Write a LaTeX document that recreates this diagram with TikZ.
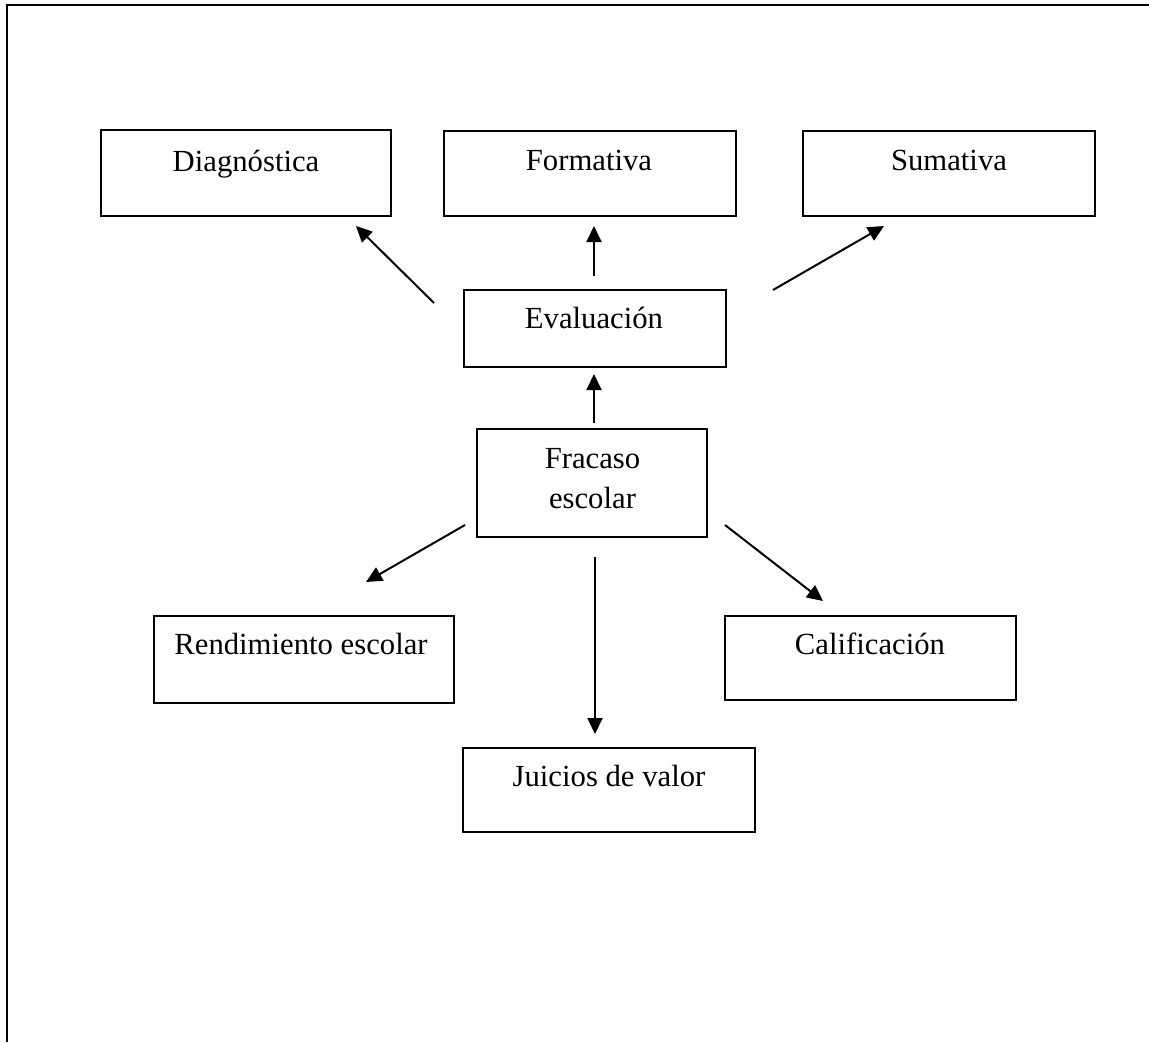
\documentclass[tikz,border=0pt]{standalone}
\usepackage{fontspec}
\setmainfont{Liberation Serif}
\usetikzlibrary{arrows.meta}
\begin{document}
\begin{tikzpicture}[x=1pt,y=-1pt,
  box/.style={draw=black, line width=2pt, rectangle, inner sep=0pt},
  lbl/.style={anchor=base, inner sep=0pt, font=\fontsize{30.7}{36}\selectfont},
  conn/.style={line width=2pt, -{Triangle[length=16pt,width=15pt]}}]
\useasboundingbox (0,0) rectangle (1149,1042);
\draw[line width=2.2pt] (7,1042) -- (7,5) -- (1149,5);
% boxes
\node[box, minimum width=290pt, minimum height=86pt] (diag) at (246,173) {};
\node[box, minimum width=292pt, minimum height=85pt] (form) at (590,173.5) {};
\node[box, minimum width=292pt, minimum height=85pt] (suma) at (949,173.5) {};
\node[box, minimum width=262pt, minimum height=77pt] (eval) at (595,328.5) {};
\node[box, minimum width=230pt, minimum height=108pt] (frac) at (592,483) {};
\node[box, minimum width=300pt, minimum height=87pt] (rend) at (304,659.5) {};
\node[box, minimum width=291pt, minimum height=84pt] (cali) at (870.5,658) {};
\node[box, minimum width=292pt, minimum height=84pt] (juic) at (609,790) {};
% labels
\node[lbl] (tdiag) at (246,171) {Diagnóstica};
\node[lbl] (tform) at (589,170) {Formativa};
\node[lbl] (tsuma) at (949,170) {Sumativa};
\node[lbl] (teval) at (594,328) {Evaluación};
\node[lbl] (tfrac1) at (592.5,468) {Fracaso};
\node[lbl] (tfrac2) at (592.5,508) {escolar};
\node[lbl] (trend) at (301,654) {Rendimiento escolar};
\node[lbl] (tcali) at (870,654) {Calificación};
\node[lbl] (tjuic) at (609,786) {Juicios de valor};
% connector end points
\coordinate (a1s) at (434,303); \coordinate (a1e) at (356,226);
\coordinate (a2s) at (594,276); \coordinate (a2e) at (594,226);
\coordinate (a3s) at (773,290); \coordinate (a3e) at (884,226);
\coordinate (a4s) at (594,423); \coordinate (a4e) at (594,374);
\coordinate (a5s) at (465,525); \coordinate (a5e) at (366,582);
\coordinate (a6s) at (595,557); \coordinate (a6e) at (595,734);
\coordinate (a7s) at (725,525); \coordinate (a7e) at (823,601);
\draw[conn] (a1s) -- (a1e);
\draw[conn] (a2s) -- (a2e);
\draw[conn] (a3s) -- (a3e);
\draw[conn] (a4s) -- (a4e);
\draw[conn] (a5s) -- (a5e);
\draw[conn] (a6s) -- (a6e);
\draw[conn] (a7s) -- (a7e);
\end{tikzpicture}
\end{document}
